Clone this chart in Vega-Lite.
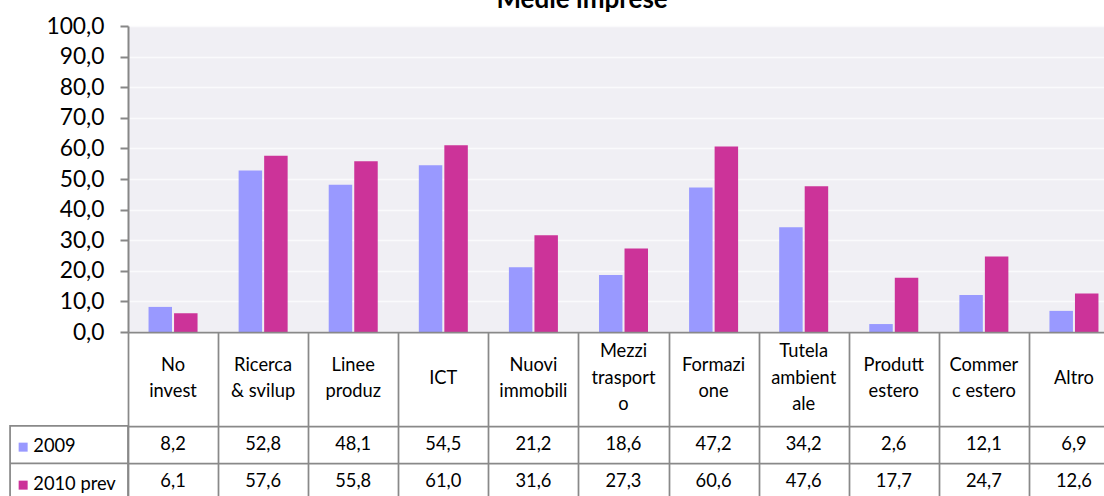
{
  "$schema": "https://vega.github.io/schema/vega-lite/v6.json",
  "padding": {"left": 9, "top": -13, "right": 0, "bottom": 0},
  "background": "white",
  "title": {"text": "Medie imprese", "fontSize": 26, "fontWeight": "bold", "font": "Lato", "color": "black", "anchor": "middle", "offset": 2, "dx": 18},
  "bounds": "flush",
  "spacing": 0,
  "config": {
    "font": "Lato",
    "view": {"stroke": null},
    "locale": {"number": {"decimal": ",", "thousands": ".", "grouping": [3], "currency": ["", " €"]}}
  },
  "datasets": {
    "vals": [
      {"col": 1, "cat": "No\ninvest", "s": "2009", "v": 8.2},
      {"col": 1, "cat": "No\ninvest", "s": "2010 prev", "v": 6.1},
      {"col": 2, "cat": "Ricerca\n& svilup", "s": "2009", "v": 52.8},
      {"col": 2, "cat": "Ricerca\n& svilup", "s": "2010 prev", "v": 57.6},
      {"col": 3, "cat": "Linee\nproduz", "s": "2009", "v": 48.1},
      {"col": 3, "cat": "Linee\nproduz", "s": "2010 prev", "v": 55.8},
      {"col": 4, "cat": "ICT", "s": "2009", "v": 54.5},
      {"col": 4, "cat": "ICT", "s": "2010 prev", "v": 61.0},
      {"col": 5, "cat": "Nuovi\nimmobili", "s": "2009", "v": 21.2},
      {"col": 5, "cat": "Nuovi\nimmobili", "s": "2010 prev", "v": 31.6},
      {"col": 6, "cat": "Mezzi\ntrasport\no", "s": "2009", "v": 18.6},
      {"col": 6, "cat": "Mezzi\ntrasport\no", "s": "2010 prev", "v": 27.3},
      {"col": 7, "cat": "Formazi\none", "s": "2009", "v": 47.2},
      {"col": 7, "cat": "Formazi\none", "s": "2010 prev", "v": 60.6},
      {"col": 8, "cat": "Tutela\nambient\nale", "s": "2009", "v": 34.2},
      {"col": 8, "cat": "Tutela\nambient\nale", "s": "2010 prev", "v": 47.6},
      {"col": 9, "cat": "Produtt\nestero", "s": "2009", "v": 2.6},
      {"col": 9, "cat": "Produtt\nestero", "s": "2010 prev", "v": 17.7},
      {"col": 10, "cat": "Commer\nc estero", "s": "2009", "v": 12.1},
      {"col": 10, "cat": "Commer\nc estero", "s": "2010 prev", "v": 24.7},
      {"col": 11, "cat": "Altro", "s": "2009", "v": 6.9},
      {"col": 11, "cat": "Altro", "s": "2010 prev", "v": 12.6}
    ]
  },
  "vconcat": [
    {
      "width": 991,
      "height": 306,
      "data": {"name": "vals"},
      "view": {"fill": "#f0eff4", "stroke": null},
      "mark": {"type": "bar"},
      "encoding": {
        "x": {"field": "col", "type": "ordinal", "axis": null, "scale": {"paddingInner": 0.456, "paddingOuter": 0.228}},
        "xOffset": {"field": "s", "type": "nominal", "scale": {"paddingInner": 0.08}},
        "y": {
          "field": "v", "type": "quantitative",
          "scale": {"domain": [0, 100], "nice": false},
          "axis": {
            "values": [0, 10, 20, 30, 40, 50, 60, 70, 80, 90, 100],
            "format": ".1f", "title": null,
            "labelFontSize": 22.8, "labelColor": "black", "labelPadding": 16,
            "tickSize": 8, "tickWidth": 2, "tickColor": "#878787",
            "domainColor": "#878787", "domainWidth": 2,
            "grid": true, "gridColor": "#fafafc", "gridWidth": 1.5
          }
        },
        "color": {
          "field": "s", "type": "nominal",
          "scale": {"domain": ["2009", "2010 prev"], "range": ["#9999FF", "#CC3399"]},
          "legend": {
            "orient": "none", "legendX": -114, "legendY": 412,
            "title": null, "direction": "vertical",
            "symbolType": "square", "symbolSize": 81, "symbolStrokeWidth": 0,
            "labelFontSize": 18.3, "labelColor": "black", "labelOffset": 1,
            "rowPadding": 19, "padding": 0
          }
        }
      }
    },
    {
      "width": 991,
      "height": 169,
      "data": {"name": "vals"},
      "layer": [
        {
          "transform": [{"filter": "indexof(datum.cat, '\\n') < 0 && datum.s === '2009'"}],
          "mark": {"type": "text", "fontSize": 18.3, "lineBreak": "\n", "lineHeight": 26.5, "baseline": "middle", "align": "center", "color": "black"},
          "encoding": {
            "x": {
              "field": "col", "type": "quantitative",
              "scale": {"domain": [0.5, 11.5], "nice": false, "zero": false},
              "axis": {"values": [0.5, 1.5, 2.5, 3.5, 4.5, 5.5, 6.5, 7.5, 8.5, 9.5, 10.5, 11.5], "grid": true, "gridColor": "#898989", "gridWidth": 1.75, "labels": false, "ticks": false, "domain": false, "title": null}
            },
            "y": {
              "datum": 1.25, "type": "quantitative",
              "scale": {"domain": [0, 4.5], "reverse": true, "nice": false, "zero": false},
              "axis": {"values": [0, 2.5, 3.5, 4.5], "grid": true, "gridColor": "#898989", "gridWidth": 1.75, "labels": false, "ticks": false, "domain": false, "title": null}
            },
            "text": {"field": "cat", "type": "nominal"}
          }
        },
        {
          "transform": [{"filter": "split(datum.cat, '\\n').length == 2 && datum.s === '2009'"}],
          "mark": {"type": "text", "fontSize": 18.3, "lineBreak": "\n", "lineHeight": 26.5, "baseline": "middle", "align": "center", "color": "black"},
          "encoding": {
            "x": {"field": "col", "type": "quantitative"},
            "y": {"datum": 0.897, "type": "quantitative"},
            "text": {"field": "cat", "type": "nominal"}
          }
        },
        {
          "transform": [{"filter": "split(datum.cat, '\\n').length == 3 && datum.s === '2009'"}],
          "mark": {"type": "text", "fontSize": 18.3, "lineBreak": "\n", "lineHeight": 26.5, "baseline": "middle", "align": "center", "color": "black"},
          "encoding": {
            "x": {"field": "col", "type": "quantitative"},
            "y": {"datum": 0.544, "type": "quantitative"},
            "text": {"field": "cat", "type": "nominal"}
          }
        },
        {
          "transform": [{"filter": "datum.s === '2009'"}],
          "mark": {"type": "text", "fontSize": 18.3, "baseline": "middle", "align": "center", "color": "black"},
          "encoding": {
            "x": {"field": "col", "type": "quantitative"},
            "y": {"datum": 3, "type": "quantitative"},
            "text": {"field": "v", "type": "quantitative", "format": ".1f"}
          }
        },
        {
          "transform": [{"filter": "datum.s === '2010 prev'"}],
          "mark": {"type": "text", "fontSize": 18.3, "baseline": "middle", "align": "center", "color": "black"},
          "encoding": {
            "x": {"field": "col", "type": "quantitative"},
            "y": {"datum": 4, "type": "quantitative"},
            "text": {"field": "v", "type": "quantitative", "format": ".1f"}
          }
        },
        {
          "data": {"values": [{}]},
          "mark": {"type": "rect", "fill": "transparent", "stroke": "#898989", "strokeWidth": 1.75},
          "encoding": {
            "x": {"datum": -0.809, "type": "quantitative"},
            "x2": {"datum": 0.5},
            "y": {"datum": 2.5, "type": "quantitative"},
            "y2": {"datum": 4.5}
          }
        },
        {
          "data": {"values": [{}]},
          "mark": {"type": "rule", "stroke": "#898989", "strokeWidth": 1.75},
          "encoding": {
            "x": {"datum": -0.809, "type": "quantitative"},
            "x2": {"datum": 0.5},
            "y": {"datum": 3.5, "type": "quantitative"}
          }
        }
      ]
    }
  ]
}
